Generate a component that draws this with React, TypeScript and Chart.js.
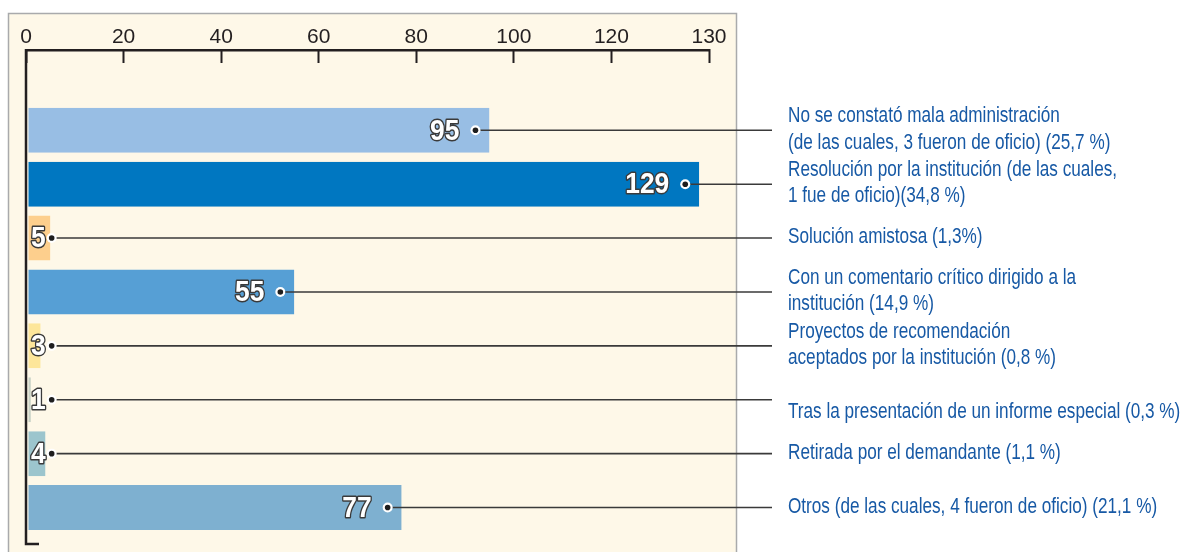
import React, { useEffect, useRef } from "react";
import { Chart, registerables, LinearScale } from "chart.js";

Chart.register(...registerables);

// ---------------- data ----------------
const categories: string[][] = [
  ["No se constató mala administración", "(de las cuales, 3 fueron de oficio) (25,7 %)"],
  ["Resolución por la institución (de las cuales,", "1 fue de oficio)(34,8 %)"],
  ["Solución amistosa (1,3%)"],
  ["Con un comentario crítico dirigido a la", "institución (14,9 %)"],
  ["Proyectos de recomendación", "aceptados por la institución (0,8 %)"],
  ["", "Tras la presentación de un informe especial (0,3 %)"],
  ["Retirada por el demandante (1,1 %)"],
  ["Otros (de las cuales, 4 fueron de oficio) (21,1 %)"],
];
const values: number[] = [95, 129, 5, 55, 3, 1, 4, 77];
const tickValues: number[] = [0, 20, 40, 60, 80, 100, 120, 130];

// ---------------- styles ----------------
const barColors: string[] = [
  "#98bee4",
  "#0077c1",
  "#fdcf8d",
  "#569fd5",
  "#fde69a",
  "#c8d2c6",
  "#9cc5cd",
  "#7eb0d0",
];
const PANEL = "#fef8e8";
const PANEL_BORDER = "#a9aaac";
const AXIS = "#231f20";
const TEXT_BLUE = "#1759a5";
const TEXT_CONDENSE = 0.78; // horizontal squeeze to imitate a condensed face
const VALUE_CONDENSE = 0.88;
const Y_MIN = -1.49;
const Y_MAX = 7.677;

// The printed axis stretches the last segment (120 → 130) to twice the scale.
const AXIS_BREAK = 120;
const BREAK_STRETCH = 2;

class BrokenLinearScale extends (LinearScale as any) {
  static id = "brokenLinear";
  static defaults = (LinearScale as any).defaults;
  warp(v: number) {
    return v <= AXIS_BREAK ? v : AXIS_BREAK + (v - AXIS_BREAK) * BREAK_STRETCH;
  }
  unwarp(w: number) {
    return w <= AXIS_BREAK ? w : AXIS_BREAK + (w - AXIS_BREAK) / BREAK_STRETCH;
  }
  configure() {
    super.configure();
    this._valueRange = this.warp(this.max) - this._startValue;
  }
  getPixelForValue(value: number) {
    if (value === null || value === undefined) return NaN;
    return this.getPixelForDecimal((this.warp(value) - this._startValue) / this._valueRange);
  }
  getValueForPixel(pixel: number) {
    return this.unwarp(this._startValue + this.getDecimalForPixel(pixel) * this._valueRange);
  }
}
Chart.register(BrokenLinearScale as any);

function drawText(
  ctx: CanvasRenderingContext2D,
  text: string,
  x: number,
  y: number,
  align: CanvasTextAlign,
  sx: number,
  stroke?: { color: string; width: number }
) {
  ctx.save();
  ctx.translate(x, y);
  ctx.scale(sx, 1);
  ctx.textAlign = align;
  ctx.textBaseline = "middle";
  if (stroke) {
    ctx.lineJoin = "round";
    ctx.lineWidth = stroke.width;
    ctx.strokeStyle = stroke.color;
    ctx.strokeText(text, 0, 0);
  }
  ctx.fillText(text, 0, 0);
  ctx.restore();
}

const overlay = {
  id: "overlay",
  beforeDraw(chart: any) {
    const { ctx, chartArea: a, width, height } = chart;
    ctx.save();
    ctx.fillStyle = "#ffffff";
    ctx.fillRect(0, 0, width, height);
    const px0 = a.left - 17.5;
    const px1 = a.right + 27.5;
    const py0 = a.top - 36.5;
    ctx.fillStyle = PANEL;
    ctx.fillRect(px0, py0, px1 - px0, height - py0 + 4);
    ctx.strokeStyle = PANEL_BORDER;
    ctx.lineWidth = 1.5;
    ctx.beginPath();
    ctx.moveTo(px0, height + 4);
    ctx.lineTo(px0, py0);
    ctx.lineTo(px1, py0);
    ctx.lineTo(px1, height + 4);
    ctx.stroke();
    ctx.restore();
  },
  afterDraw(chart: any) {
    const { ctx, chartArea: a } = chart;
    ctx.save();
    // left axis with foot
    ctx.strokeStyle = AXIS;
    ctx.lineWidth = 2.5;
    ctx.beginPath();
    ctx.moveTo(a.left, a.top - 1);
    ctx.lineTo(a.left, a.bottom);
    ctx.lineTo(a.left + 13, a.bottom);
    ctx.stroke();

    const meta = chart.getDatasetMeta(0);
    const lineEnd = a.right + 63;
    const textX = a.right + 79;
    meta.data.forEach((bar: any, i: number) => {
      const { x, y } = bar.getProps(["x", "y"], true);
      const label = String(values[i]);
      ctx.font = 'bold 30px "Liberation Sans", Arial, sans-serif';
      const tw = ctx.measureText(label).width * VALUE_CONDENSE;
      let dotX: number;
      let textRight: number;
      if (x - 13 - 16 - tw > a.left + 4) {
        dotX = x - 14;
        textRight = dotX - 16;
      } else {
        textRight = a.left + 5 + tw;
        dotX = textRight + 6;
      }
      // leader line
      ctx.strokeStyle = "#3a3a3a";
      ctx.lineWidth = 1.6;
      ctx.beginPath();
      ctx.moveTo(dotX, y);
      ctx.lineTo(lineEnd, y);
      ctx.stroke();
      // dot
      ctx.fillStyle = "#ffffff";
      ctx.beginPath();
      ctx.arc(dotX, y, 5, 0, Math.PI * 2);
      ctx.fill();
      ctx.fillStyle = "#1e1e1e";
      ctx.beginPath();
      ctx.arc(dotX, y, 2.8, 0, Math.PI * 2);
      ctx.fill();
      // value label
      ctx.fillStyle = "#ffffff";
      drawText(ctx, label, textRight, y + 1, "right", VALUE_CONDENSE, { color: "#3a3a3a", width: 3 });
      // category text
      const lines = categories[i];
      ctx.font = '22px "Liberation Sans", Arial, sans-serif';
      ctx.fillStyle = TEXT_BLUE;
      const n = lines.length;
      lines.forEach((ln, j) => {
        drawText(ctx, ln, textX, y + (j - (n - 1) / 2) * 26.5 - 1, "left", TEXT_CONDENSE);
      });
    });
    ctx.restore();
  },
};

export default function App() {
  const canvasRef = useRef<HTMLCanvasElement | null>(null);

  useEffect(() => {
    if (!canvasRef.current) return;
    const chart = new Chart(canvasRef.current, {
      type: "bar",
      data: {
        labels: categories.map((c) => c.join(" ")),
        datasets: [
          {
            data: values.map((v, i) => ({ x: v, y: i })) as any,
            backgroundColor: barColors,
            borderColor: PANEL,
            borderWidth: { left: 2, right: 0, top: 0, bottom: 0 } as any,
            borderSkipped: false as any,
            categoryPercentage: 0.835,
            barPercentage: 1,
          },
        ],
      },
      options: {
        indexAxis: "y",
        animation: false,
        responsive: true,
        maintainAspectRatio: false,
        layout: { padding: { left: 26, right: 477, top: 10, bottom: 8 } },
        plugins: {
          legend: { display: false },
          tooltip: { enabled: false },
        },
        scales: {
          x: {
            type: "brokenLinear" as any,
            position: "top",
            min: 0,
            max: 130,
            z: 1,
            afterBuildTicks: (scale: any) => {
              scale.ticks = tickValues.map((v) => ({ value: v }));
            },
            afterFit: (scale: any) => {
              scale.height = 40;
            },
            border: { display: true, width: 2.5, color: AXIS },
            grid: {
              display: true,
              drawOnChartArea: false,
              drawTicks: true,
              tickLength: -13,
              tickWidth: 2,
              tickColor: AXIS,
            },
            ticks: {
              padding: 13,
              color: AXIS,
              maxRotation: 0,
              autoSkip: false,
              font: { family: '"Liberation Sans", Arial, sans-serif', size: 21 },
              callback: (v: any) => String(v),
            },
          } as any,
          y: {
            type: "linear",
            reverse: true,
            offset: false,
            min: Y_MIN,
            max: Y_MAX,
            bounds: "data",
            display: false,
            afterBuildTicks: (scale: any) => {
              scale.min = Y_MIN;
              scale.max = Y_MAX;
              scale.ticks = values.map((_, i) => ({ value: i }));
            },
          } as any,
        },
      },
      plugins: [overlay],
    });
    return () => chart.destroy();
  }, []);

  return (
    <div style={{ position: "fixed", left: 0, top: 0, width: 1186, height: 552 }}>
      <canvas ref={canvasRef} />
    </div>
  );
}
